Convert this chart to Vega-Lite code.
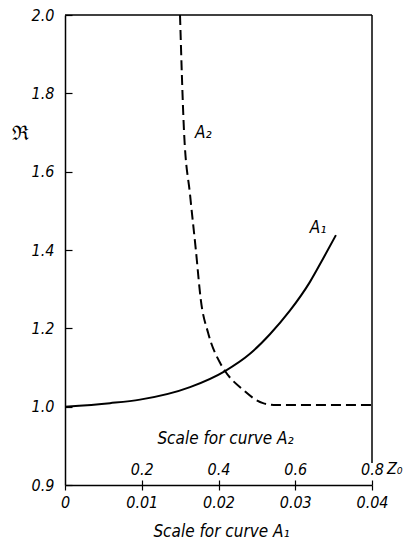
{
  "$schema": "https://vega.github.io/schema/vega-lite/v6.json",
  "width": 307,
  "height": 470,
  "autosize": {"type": "none"},
  "padding": {"left": 65, "top": 15, "right": 31, "bottom": 60},
  "config": {
    "view": {"stroke": null},
    "axis": {
      "labelFont": "DejaVu Sans Condensed",
      "labelFontSize": 16,
      "labelFontStyle": "italic",
      "labelColor": "black",
      "labelFlush": false,
      "labelOverlap": false,
      "domainColor": "black",
      "domainWidth": 1.5,
      "tickColor": "black",
      "tickWidth": 1.2,
      "grid": false,
      "titleColor": "black",
      "titleFont": "DejaVu Sans Condensed",
      "titleFontSize": 17,
      "titleFontStyle": "italic",
      "titleFontWeight": "normal"
    },
    "text": {"font": "DejaVu Sans Condensed", "fontStyle": "italic", "fontSize": 17, "color": "black"}
  },
  "encoding": {
    "y": {
      "field": "y",
      "type": "quantitative",
      "scale": {"domain": [0.8, 2.0], "nice": false, "zero": false},
      "axis": {
        "values": [0.8, 1.0, 1.2, 1.4, 1.6, 1.8, 2.0],
        "labelExpr": "datum.value < 0.85 ? '0.9' : format(datum.value, '.1f')",
        "tickSize": -7,
        "labelPadding": 18,
        "title": "ℜ",
        "titleAngle": 0,
        "titleX": -45,
        "titleY": 118,
        "titleAlign": "center",
        "titleBaseline": "middle",
        "titleFont": "DejaVu Serif",
        "titleFontStyle": "normal",
        "titleFontSize": 20
      }
    }
  },
  "layer": [
    {
      "encoding": {
        "x": {
          "field": "x",
          "type": "quantitative",
          "scale": {"domain": [0, 0.04], "nice": false, "zero": false},
          "axis": {
            "orient": "bottom",
            "values": [0, 0.01, 0.02, 0.03, 0.04],
            "labelExpr": "format(datum.value, '~g')",
            "tickSize": 5,
            "labelPadding": 4,
            "title": "Scale for curve A₁",
            "titleX": 156,
            "titleY": 51,
            "titleBaseline": "alphabetic"
          }
        }
      },
      "layer": [
        {
          "data": {"values": [
            {"x": 0, "x2": 0.04, "y": 2.0, "y2": 2.0},
            {"x": 0.04, "x2": 0.04, "y": 0.856, "y2": 2.0}
          ]},
          "mark": {"type": "rule", "color": "black", "strokeWidth": 1.5},
          "encoding": {"x2": {"field": "x2"}, "y2": {"field": "y2"}}
        },
        {
          "data": {"values": [
            {"x": 0.0, "y": 1.0},
            {"x": 0.00586, "y": 1.009},
            {"x": 0.00977, "y": 1.018},
            {"x": 0.01629, "y": 1.05},
            {"x": 0.02085, "y": 1.091},
            {"x": 0.0241, "y": 1.135},
            {"x": 0.0267, "y": 1.185},
            {"x": 0.0293, "y": 1.245},
            {"x": 0.0319, "y": 1.318},
            {"x": 0.0336, "y": 1.377},
            {"x": 0.0353, "y": 1.438}
          ]},
          "mark": {"type": "line", "color": "black", "strokeWidth": 2, "interpolate": "monotone"}
        },
        {
          "data": {"values": [{"x": 0.0319, "y": 1.443, "label": "A₁"}]},
          "mark": {"type": "text", "align": "left", "baseline": "alphabetic"},
          "encoding": {"text": {"field": "label"}}
        },
        {
          "data": {"values": [{"x": 0.04, "y": 0.8, "label": "Z₀"}]},
          "mark": {"type": "text", "align": "left", "baseline": "alphabetic", "dx": 15, "dy": -11, "fontSize": 16},
          "encoding": {"text": {"field": "label"}}
        }
      ]
    },
    {
      "encoding": {
        "x": {
          "field": "x",
          "type": "quantitative",
          "scale": {"domain": [0, 0.8], "nice": false, "zero": false},
          "axis": {
            "orient": "top",
            "offset": -470,
            "values": [0.2, 0.4, 0.6, 0.8],
            "labelExpr": "format(datum.value, '.1f')",
            "tickSize": 5,
            "labelPadding": 3,
            "domain": false,
            "title": "Scale for curve A₂",
            "titleX": 160,
            "titleY": -42,
            "titleBaseline": "alphabetic"
          }
        }
      },
      "layer": [
        {
          "data": {"values": [
            {"x": 0.2997, "y": 2.0},
            {"x": 0.31, "y": 1.706},
            {"x": 0.326, "y": 1.54},
            {"x": 0.341, "y": 1.4},
            {"x": 0.354, "y": 1.272},
            {"x": 0.373, "y": 1.188},
            {"x": 0.404, "y": 1.112},
            {"x": 0.417, "y": 1.091},
            {"x": 0.464, "y": 1.043},
            {"x": 0.516, "y": 1.009},
            {"x": 0.552, "y": 1.004},
            {"x": 0.8, "y": 1.004}
          ]},
          "mark": {"type": "line", "color": "black", "strokeWidth": 2, "strokeDash": [10, 5], "interpolate": "monotone"}
        },
        {
          "data": {"values": [{"x": 0.339, "y": 1.686, "label": "A₂"}]},
          "mark": {"type": "text", "align": "left", "baseline": "alphabetic"},
          "encoding": {"text": {"field": "label"}}
        }
      ]
    }
  ],
  "resolve": {"scale": {"x": "independent"}, "axis": {"x": "independent"}}
}
